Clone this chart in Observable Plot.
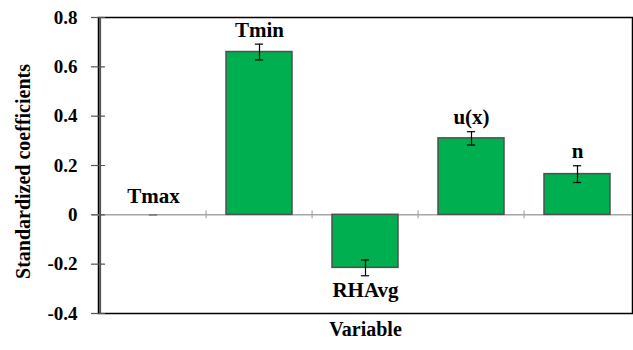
<!DOCTYPE html>
<html>
<head>
<meta charset="utf-8">
<script src="https://cdn.jsdelivr.net/npm/d3@7"></script>
<script src="https://cdn.jsdelivr.net/npm/@observablehq/plot@0.6"></script>
<style>
  html, body { margin: 0; padding: 0; background: #fff; }
  svg text { font-family: "Liberation Serif", serif; }
</style>
</head>
<body>
<div id="chart"></div>
<script>
const categories = ["Tmax", "Tmin", "RHAvg", "u(x)", "n"];
const coefficients = [0, 0.66, -0.215, 0.31, 0.165];
const errors = [0, 0.032, 0.032, 0.027, 0.034];
const yTicks = [-0.4, -0.2, 0, 0.2, 0.4, 0.6, 0.8];
const yTitle = "Standardized coefficients";
const xTitle = "Variable";

const data = categories.map((c, i) => ({variable: c, value: coefficients[i], err: errors[i]}));

const W = 633, H = 350;
const mL = 98, mR = 1, mT = 17, mB = 37;
const band = (W - mL - mR) / categories.length;
const font = "Liberation Serif";
const fmt = d => d === 0 ? "0" : d.toFixed(1);

const chart = Plot.plot({
  width: W,
  height: H,
  marginLeft: mL,
  marginRight: mR,
  marginTop: mT,
  marginBottom: mB,
  style: {fontFamily: font, background: "#fff", overflow: "visible"},
  x: {type: "band", domain: categories, padding: 0, axis: null},
  y: {domain: [-0.4, 0.8], axis: null},
  marks: [
    Plot.frame({stroke: "#000", strokeWidth: 1.5}),
    Plot.ruleY([0], {stroke: "#a6a6a6", strokeWidth: 1.5, insetLeft: -6}),
    Plot.ruleX(categories.slice(1), {x: d => d, y1: -0.016, y2: 0.016, dx: -band / 2, stroke: "#a6a6a6", strokeWidth: 1.2}),
    Plot.barY(data, {x: "variable", y: "value", fill: "#00b050", stroke: "#505050", strokeWidth: 1.5, insetLeft: 20, insetRight: 20}),
    Plot.ruleX(data, {x: "variable", y1: d => d.value - d.err, y2: d => d.value + d.err, stroke: "#000", strokeWidth: 1.2}),
    Plot.tickY(data, {x: "variable", y: d => d.value + d.err, insetLeft: band / 2 - 4.5, insetRight: band / 2 - 4.5, stroke: d => d.err === 0 ? "#777" : "#000", strokeWidth: 1.2}),
    Plot.tickY(data, {x: "variable", y: d => d.value - d.err, insetLeft: band / 2 - 4.5, insetRight: band / 2 - 4.5, stroke: d => d.err === 0 ? "#777" : "#000", strokeWidth: 1.2}),
    Plot.ruleX([categories[0]], {x: d => d, dx: -band / 2, stroke: "#555", strokeWidth: 2}),
    Plot.axisY(yTicks, {tickSize: 7, tickPadding: 14, fontSize: 19, fontWeight: "bold", fontFamily: font, fill: "#000", stroke: "#555", strokeWidth: 1.2, tickFormat: fmt, label: null}),
    Plot.vector(yTicks, {y: d => d, frameAnchor: "left", length: 6, rotate: 90, anchor: "start", stroke: "#555", strokeWidth: 1.2,
      shape: {draw(ctx, l) { ctx.moveTo(0, 0); ctx.lineTo(0, -l); }}}),
    Plot.text(data.filter(d => d.value > 0), {x: "variable", y: d => d.value + d.err, text: "variable", dy: -14, fontSize: 21, fontWeight: "bold", fontFamily: font, fill: "#000"}),
    Plot.text(data.filter(d => d.value === 0), {x: "variable", y: "value", text: "variable", dy: -19, fontSize: 21, fontWeight: "bold", fontFamily: font, fill: "#000"}),
    Plot.text(data.filter(d => d.value < 0), {x: "variable", y: d => d.value - d.err, text: "variable", dy: 15, fontSize: 21, fontWeight: "bold", fontFamily: font, fill: "#000"}),
    Plot.text([yTitle], {frameAnchor: "left", textAnchor: "middle", text: d => d, rotate: -90, dx: -75, dy: 6, fontSize: 20, fontWeight: "bold", fontFamily: font, fill: "#000"}),
    Plot.text([xTitle], {frameAnchor: "bottom", text: d => d, dy: 22, fontSize: 20, fontWeight: "bold", fontFamily: font, fill: "#000"})
  ]
});
document.getElementById("chart").appendChild(chart);
</script>
</body>
</html>
